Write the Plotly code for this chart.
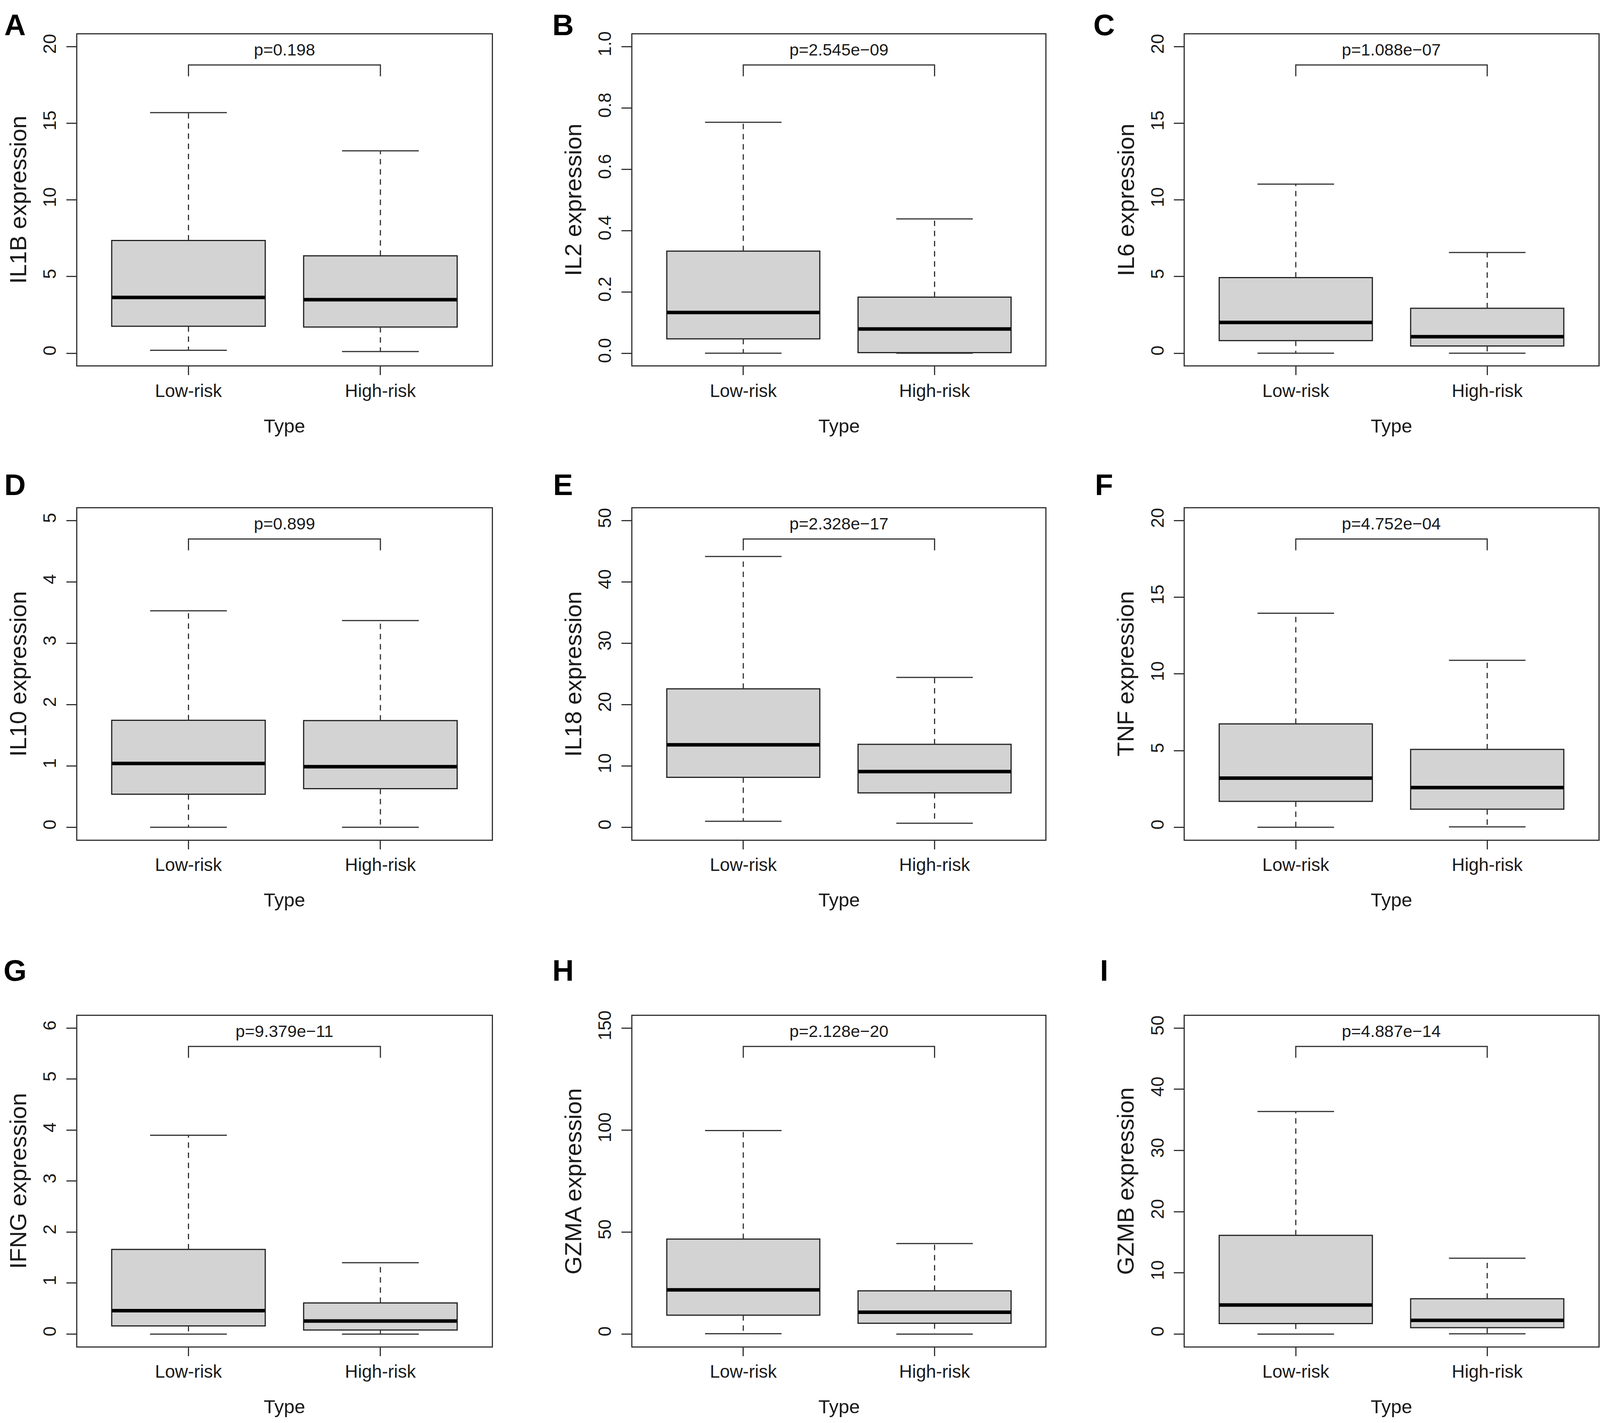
import plotly.graph_objects as go
from plotly.subplots import make_subplots

# Panel data, one value per gene
genes = ['IL1B', 'IL2', 'IL6', 'IL10', 'IL18', 'TNF', 'IFNG', 'GZMA', 'GZMB']
letters = ['A', 'B', 'C', 'D', 'E', 'F', 'G', 'H', 'I']
groups = ['Low-risk', 'High-risk']
p_text = ['p=0.198', 'p=2.545e\u221209', 'p=1.088e\u221207',
          'p=0.899', 'p=2.328e\u221217', 'p=4.752e\u221204',
          'p=9.379e\u221211', 'p=2.128e\u221220', 'p=4.887e\u221214']

## Low-risk box statistics
low_min = [0.19, 0.0, 0.0, 0.0, 0.98, 0.0, 0.0, 0.2, 0.0]
low_q1 = [1.76, 0.047, 0.82, 0.539, 8.15, 1.69, 0.16, 9.3, 1.72]
low_med = [3.64, 0.133, 2.01, 1.04, 13.44, 3.21, 0.46, 21.7, 4.76]
low_q3 = [7.35, 0.333, 4.93, 1.744, 22.57, 6.74, 1.66, 46.6, 16.14]
low_max = [15.69, 0.753, 11.03, 3.53, 44.15, 13.96, 3.90, 99.8, 36.37]

## High-risk box statistics
high_min = [0.11, 0.0, 0.0, 0.0, 0.66, 0.03, 0.0, 0.0, 0.04]
high_q1 = [1.71, 0.002, 0.47, 0.629, 5.62, 1.18, 0.08, 5.3, 1.05]
high_med = [3.49, 0.079, 1.08, 0.988, 9.08, 2.59, 0.256, 10.7, 2.25]
high_q3 = [6.35, 0.183, 2.93, 1.74, 13.53, 5.08, 0.61, 21.2, 5.77]
high_max = [13.2, 0.438, 6.57, 3.37, 24.44, 10.89, 1.40, 44.4, 12.4]

## y axis top value and tick step per panel
y_max = [20, 1.0, 20, 5, 50, 20, 6, 150, 50]
y_step = [5, 0.2, 5, 1, 10, 5, 1, 50, 10]

##############################################################

# Reference canvas, used only to turn pixel positions into paper fractions
W, H = 4562, 3642
# Plot frames in pixels
col_left = [220, 1803, 3378]
col_right = [1402, 2981, 4557]
row_top = [74, 1292, 2596]
row_bottom = [925, 2143, 3445]
letter_x = [43, 1605, 3148]
letter_y = [50, 1231, 2479]

font = 'Liberation Sans, Arial, Helvetica, sans-serif'
line_col = '#333333'
text_col = '#1a1a1a'

fig = make_subplots(rows=3, cols=3)

xs = [1, 2]
half_box = 0.4
half_cap = 0.2

for i, gene in enumerate(genes):
    r, c = divmod(i, 3)
    row, col = r + 1, c + 1
    lo = [low_min[i], high_min[i]]
    q1 = [low_q1[i], high_q1[i]]
    med = [low_med[i], high_med[i]]
    q3 = [low_q3[i], high_q3[i]]
    hi = [low_max[i], high_max[i]]

    # Dashed whiskers
    wx, wy = [], []
    for k, xp in enumerate(xs):
        wx += [xp, xp, None, xp, xp, None]
        wy += [q3[k], hi[k], None, q1[k], lo[k], None]
    fig.add_trace(go.Scatter(x=wx, y=wy, mode='lines',
                             line=dict(color=line_col, width=3, dash='14px,12px'),
                             hoverinfo='skip', showlegend=False), row=row, col=col)

    # Whisker caps
    cx, cy = [], []
    for k, xp in enumerate(xs):
        cx += [xp - half_cap, xp + half_cap, None, xp - half_cap, xp + half_cap, None]
        cy += [hi[k], hi[k], None, lo[k], lo[k], None]
    fig.add_trace(go.Scatter(x=cx, y=cy, mode='lines',
                             line=dict(color=line_col, width=3),
                             hoverinfo='skip', showlegend=False), row=row, col=col)

    # Boxes
    fig.add_trace(go.Box(x=xs, q1=q1, median=med, q3=q3,
                         lowerfence=q1, upperfence=q3,
                         width=2 * half_box, boxpoints=False,
                         fillcolor='#d3d3d3',
                         line=dict(color='#222222', width=3),
                         hoverinfo='skip', showlegend=False), row=row, col=col)

    # Thick median lines
    mx, my = [], []
    for k, xp in enumerate(xs):
        mx += [xp - half_box, xp + half_box, None]
        my += [med[k], med[k], None]
    fig.add_trace(go.Scatter(x=mx, y=my, mode='lines',
                             line=dict(color='black', width=9),
                             hoverinfo='skip', showlegend=False), row=row, col=col)

    # p-value bracket
    ym = y_max[i]
    fig.add_trace(go.Scatter(x=[1, 1, 2, 2],
                             y=[0.903 * ym, 0.94 * ym, 0.94 * ym, 0.903 * ym],
                             mode='lines', line=dict(color=line_col, width=3),
                             hoverinfo='skip', showlegend=False), row=row, col=col)

    ax = '' if i == 0 else str(i + 1)
    fig.add_annotation(text=p_text[i], x=1.5, y=0.99 * ym,
                       xref=f'x{ax}', yref=f'y{ax}', showarrow=False,
                       yanchor='middle', font=dict(size=43, color=text_col, family=font))

    # Axes
    fig.update_xaxes(domain=[col_left[c] / W, col_right[c] / W],
                     range=[0.42, 2.58], tickvals=xs, ticktext=groups,
                     row=row, col=col)
    fig.update_yaxes(domain=[1 - row_bottom[r] / H, 1 - row_top[r] / H],
                     range=[-0.04 * ym, 1.04 * ym], tick0=0, dtick=y_step[i],
                     tickformat='.1f' if gene == 'IL2' else '',
                     row=row, col=col)

    # Panel letter
    fig.add_annotation(text=f'<b>{letters[i]}</b>', x=letter_x[c] / W, y=1 - letter_y[r] / H,
                       xref='paper', yref='paper', showarrow=False,
                       xanchor='center', yanchor='middle',
                       font=dict(size=76, color='black', family=font))
    # y title
    fig.add_annotation(text=f'{gene} expression', x=(col_left[c] - 168) / W,
                       y=1 - (row_top[r] + row_bottom[r]) / 2 / H,
                       xref='paper', yref='paper', showarrow=False, textangle=-90,
                       xanchor='center', yanchor='middle',
                       font=dict(size=60, color=text_col, family=font))
    # x title
    fig.add_annotation(text='Type', x=(col_left[c] + col_right[c]) / 2 / W,
                       y=1 - (row_bottom[r] + 155) / H,
                       xref='paper', yref='paper', showarrow=False,
                       xanchor='center', yanchor='middle',
                       font=dict(size=49, color=text_col, family=font))

fig.update_xaxes(showline=True, mirror=True, linecolor=line_col, linewidth=3,
                 ticks='outside', ticklen=22, tickwidth=3, tickcolor=line_col,
                 ticklabelstandoff=0,
                 showgrid=False, zeroline=False,
                 tickfont=dict(size=46, color=text_col, family=font))
fig.update_yaxes(showline=True, mirror=True, linecolor=line_col, linewidth=3,
                 ticks='outside', ticklen=25, tickwidth=3, tickcolor=line_col,
                 tickangle=-90, ticklabelstandoff=8,
                 showgrid=False, zeroline=False,
                 tickfont=dict(size=46, color=text_col, family=font))

# Figure fills the browser window
fig.update_layout(autosize=True,
                  margin=dict(l=0, r=0, t=0, b=0),
                  plot_bgcolor='white', paper_bgcolor='white',
                  showlegend=False, font=dict(family=font))

fit_js = ("document.body.style.margin='0';"
          "document.body.style.overflow='hidden';"
          "Plotly.Plots.resize(document.getElementById('{plot_id}'));")

fig.write_html('out.html', default_width='100vw', default_height='100vh',
               config={'responsive': True, 'displayModeBar': False},
               post_script=fit_js)
